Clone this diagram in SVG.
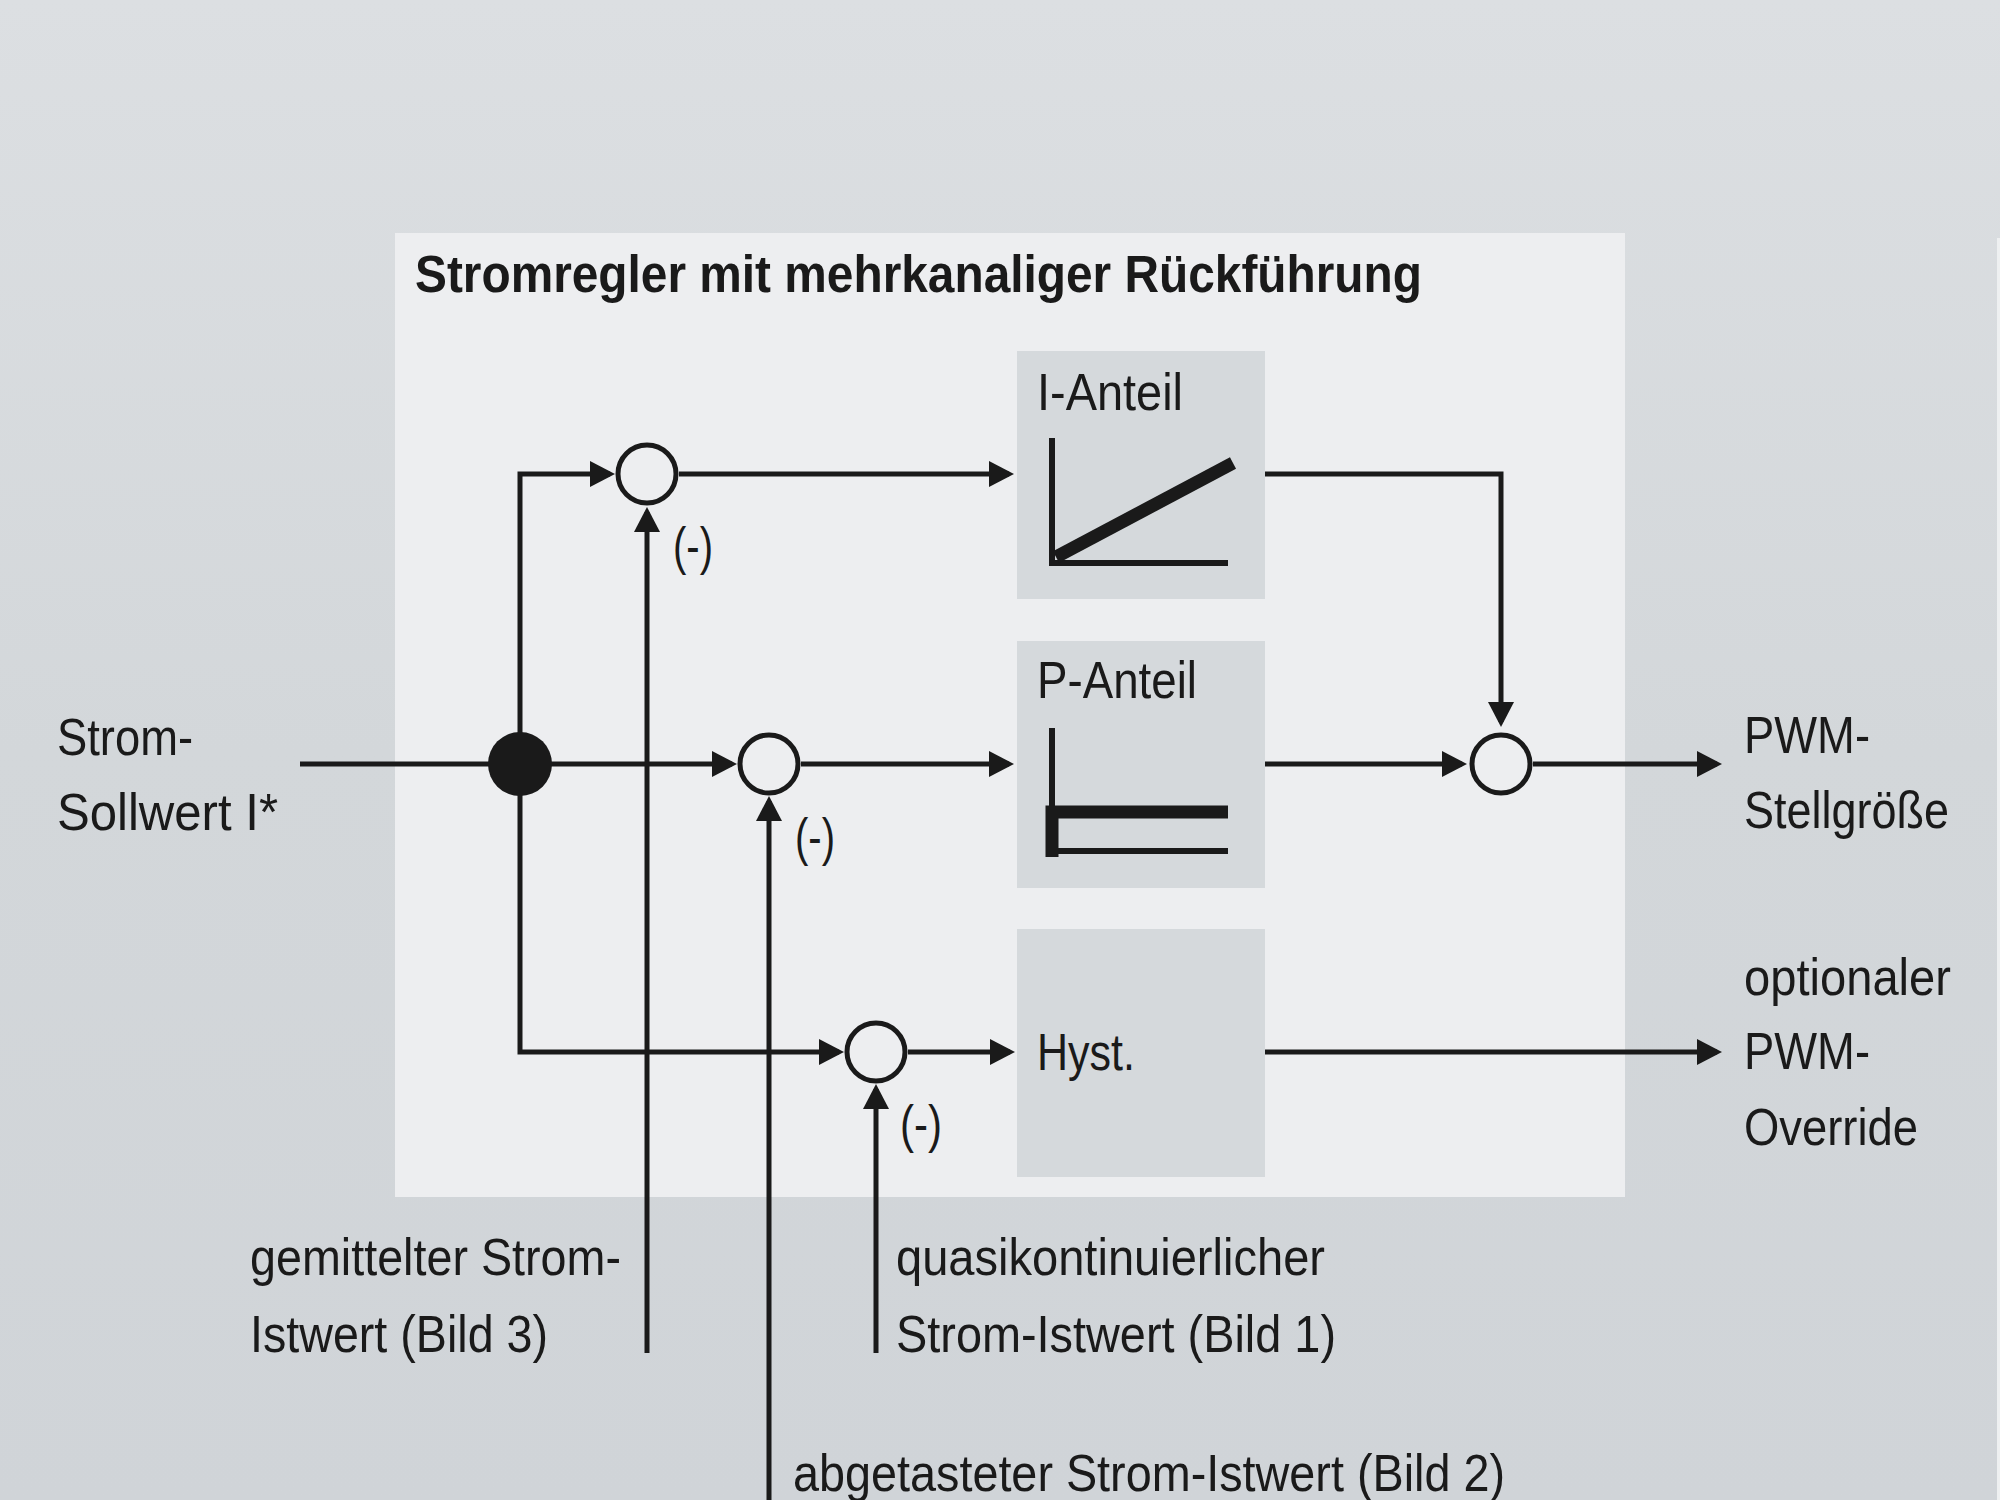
<svg xmlns="http://www.w3.org/2000/svg" width="2000" height="1500" viewBox="0 0 2000 1500">
<defs>
<linearGradient id="bg" x1="0" y1="0" x2="0" y2="1">
<stop offset="0" stop-color="#dcdfe2"/>
<stop offset="0.5" stop-color="#d3d7da"/>
<stop offset="1" stop-color="#d0d4d8"/>
</linearGradient>
<marker id="arr" viewBox="0 0 25 26" refX="20" refY="13" markerWidth="25" markerHeight="26" markerUnits="userSpaceOnUse" orient="auto">
<path d="M0,0 L25,13 L0,26 z" fill="#1a1a1a"/>
</marker>
<style>
.ln{fill:none;stroke:#1a1a1a;stroke-width:5;marker-end:url(#arr)}
.sum{fill:none;stroke:#1a1a1a;stroke-width:5}
.box{fill:#d5d9dc}
.t{font-family:"Liberation Sans",Arial,sans-serif;font-size:52px;fill:#1a1a1a}
.tb{font-family:"Liberation Sans",Arial,sans-serif;font-size:51px;font-weight:bold;fill:#1a1a1a}
.ax{fill:none;stroke:#1a1a1a;stroke-width:6;stroke-linejoin:miter}
.thick{fill:none;stroke:#1a1a1a;stroke-width:13;stroke-linejoin:miter}
</style>
</defs>
<rect x="0" y="0" width="2000" height="1500" fill="url(#bg)"/>
<rect x="1997" y="238" width="3" height="1262" fill="#eef0f1"/>
<g id="panel">
<rect x="395" y="233" width="1230" height="964" fill="#edeef0"/>
<text class="tb" x="415" y="292" textLength="1007" lengthAdjust="spacingAndGlyphs">Stromregler mit mehrkanaliger Rückführung</text>
</g>
<g id="input-label">
<text class="t" x="57" y="755" textLength="136" lengthAdjust="spacingAndGlyphs">Strom-</text>
<text class="t" x="57" y="830" textLength="221" lengthAdjust="spacingAndGlyphs">Sollwert I*</text>
</g>
<g id="box-i">
<rect class="box" x="1017" y="351" width="248" height="248"/>
<text class="t" x="1037" y="410" textLength="146" lengthAdjust="spacingAndGlyphs">I-Anteil</text>
<path class="ax" d="M1052,438 V563 H1228"/>
<path class="thick" d="M1056,557 L1233,463"/>
</g>
<g id="box-p">
<rect class="box" x="1017" y="641" width="248" height="247"/>
<text class="t" x="1037" y="698" textLength="160" lengthAdjust="spacingAndGlyphs">P-Anteil</text>
<path class="ax" d="M1052,728 V851 H1228"/>
<path class="thick" d="M1228,812 H1052 V857"/>
</g>
<g id="box-hyst">
<rect class="box" x="1017" y="929" width="248" height="248"/>
<text class="t" x="1037" y="1070" textLength="98" lengthAdjust="spacingAndGlyphs">Hyst.</text>
</g>
<g id="branch-dot">
<circle cx="520" cy="764" r="32" fill="#1a1a1a"/>
</g>
<g id="sum1"><circle class="sum" cx="647" cy="474" r="29"/><text class="t" x="673" y="564" textLength="40" lengthAdjust="spacingAndGlyphs">(-)</text></g>
<g id="sum2"><circle class="sum" cx="769" cy="764" r="29"/><text class="t" x="795" y="855" textLength="40" lengthAdjust="spacingAndGlyphs">(-)</text></g>
<g id="sum3"><circle class="sum" cx="876" cy="1052" r="29"/><text class="t" x="900" y="1142" textLength="42" lengthAdjust="spacingAndGlyphs">(-)</text></g>
<g id="sum4"><circle class="sum" cx="1501" cy="764" r="29"/></g>
<g id="output-labels">
<text class="t" x="1744" y="753" textLength="126" lengthAdjust="spacingAndGlyphs">PWM-</text>
<text class="t" x="1744" y="828" textLength="205" lengthAdjust="spacingAndGlyphs">Stellgröße</text>
<text class="t" x="1744" y="995" textLength="207" lengthAdjust="spacingAndGlyphs">optionaler</text>
<text class="t" x="1744" y="1069" textLength="126" lengthAdjust="spacingAndGlyphs">PWM-</text>
<text class="t" x="1744" y="1145" textLength="174" lengthAdjust="spacingAndGlyphs">Override</text>
</g>
<g id="feedback-labels">
<text class="t" x="250" y="1275" textLength="371" lengthAdjust="spacingAndGlyphs">gemittelter Strom-</text>
<text class="t" x="250" y="1352" textLength="298" lengthAdjust="spacingAndGlyphs">Istwert (Bild 3)</text>
<text class="t" x="896" y="1275" textLength="429" lengthAdjust="spacingAndGlyphs">quasikontinuierlicher</text>
<text class="t" x="896" y="1352" textLength="440" lengthAdjust="spacingAndGlyphs">Strom-Istwert (Bild 1)</text>
<text class="t" x="793" y="1491" textLength="712" lengthAdjust="spacingAndGlyphs">abgetasteter Strom-Istwert (Bild 2)</text>
</g>
<g id="connectors">
<path class="ln" d="M300,764 H732"/>
<path class="ln" d="M520,764 V474 H610"/>
<path class="ln" d="M520,764 V1052 H839"/>
<path class="ln" d="M679,474 H1009"/>
<path class="ln" d="M801,764 H1009"/>
<path class="ln" d="M908,1052 H1010"/>
<path class="ln" d="M1265,474 H1501 V722"/>
<path class="ln" d="M1265,764 H1462"/>
<path class="ln" d="M1533,764 H1717"/>
<path class="ln" d="M1265,1052 H1717"/>
<path class="ln" d="M647,1353 V512"/>
<path class="ln" d="M769,1500 V801"/>
<path class="ln" d="M876,1353 V1089"/>
</g>
</svg>
